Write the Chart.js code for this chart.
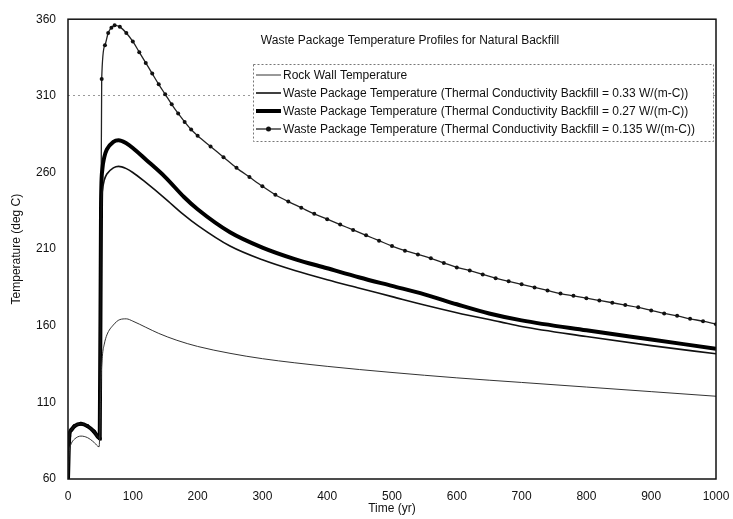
<!DOCTYPE html>
<html>
<head>
<meta charset="utf-8">
<script src="https://cdn.jsdelivr.net/npm/chart.js@4/dist/chart.umd.min.js"></script>
<style>
  body { margin: 0; background: #fff; }
  canvas { display: block; }
</style>
</head>
<body>
<canvas id="temp-chart" width="733" height="519"></canvas>
<script>
const chartTitle = 'Waste Package Temperature Profiles for Natural Backfill';

// rock wall
const rockYears = [0, 1, 2, 5, 10, 20, 30, 40, 48, 51, 53, 56, 60, 70, 80, 90, 100, 120, 140, 168, 200, 250, 300, 400, 500, 600, 700, 800, 900, 1000];
const rockTemps = [60, 72, 78, 83, 86, 88, 87, 84, 81, 125, 140, 148, 154, 160.5, 164, 164.5, 163, 159, 155, 150.5, 146.5, 142, 138.5, 133.5, 129.5, 126, 123, 120, 117, 114];

// k = 0.33
const wp033Years = [0, 2, 5, 10, 20, 30, 40, 49, 51, 53, 56, 60, 70, 78, 90, 100, 120, 150, 177, 200, 250, 300, 350, 400, 450, 500, 550, 600, 667, 700, 800, 900, 1000];
const wp033Temps = [60, 88, 92, 94.5, 96, 94.5, 91, 86.5, 230, 248, 255, 259, 263, 264, 262.5, 260, 253.5, 243, 233, 225.5, 212, 203, 196, 190, 184.5, 179, 173.5, 168.5, 162.5, 159.5, 153, 147, 141.7];

// k = 0.27
const wp027Years = [0, 2, 5, 10, 20, 30, 40, 49, 51, 53, 56, 60, 70, 78, 90, 100, 120, 150, 179, 200, 250, 300, 350, 400, 450, 500, 550, 600, 650, 700, 800, 900, 1000];
const wp027Temps = [60, 88, 92, 94.5, 96, 94.5, 91, 86.5, 240, 262, 270, 275, 280, 281, 279, 276, 268.5, 257, 244, 236, 221, 211, 203.5, 197.5, 191.5, 186, 180.5, 174, 168, 163.5, 157, 151, 145];

// k = 0.135 (with markers)
const wp0135Years = [0, 2, 5, 10, 20, 30, 40, 49, 52, 57, 62, 67, 72, 80, 90, 100, 110, 120, 130, 140, 150, 160, 170, 180, 190, 200,
  220, 240, 260, 280, 300, 320, 340, 360, 380, 400, 420, 440, 460, 480, 500, 520, 540, 560, 580, 600,
  620, 640, 660, 680, 700, 720, 740, 760, 780, 800, 820, 840, 860, 880, 900, 920, 940, 960, 980, 1000];
const wp0135Temps = [60, 88, 92, 94.5, 96, 94.5, 91, 86.5, 321, 343, 351, 354.5, 356, 355, 351, 345.5, 338.5, 331.5, 324.5, 317.5, 311, 304.5, 298.5, 293, 288, 284,
  277, 270, 263, 257, 251, 245.5, 241, 237, 233, 229.5, 226, 222.5, 219, 215.5, 212, 209, 206.5, 204, 201, 198,
  196, 193.5, 191, 189, 187, 185, 183, 181, 179.5, 178, 176.5, 175, 173.5, 172, 170, 168, 166.5, 164.5, 163, 161];

const seriesNames = [
  'Rock Wall Temperature',
  'Waste Package Temperature (Thermal Conductivity Backfill = 0.33 W/(m-C))',
  'Waste Package Temperature (Thermal Conductivity Backfill = 0.27 W/(m-C))',
  'Waste Package Temperature (Thermal Conductivity Backfill = 0.135 W/(m-C))'
];

const yTicks = [60, 110, 160, 210, 260, 310, 360];

function pts(xs, ys) {
  return xs.map((x, i) => ({x: x, y: ys[i]}));
}

const FONT = '"Liberation Sans", Arial, sans-serif';

// frame, title and legend drawn inside the plot
const overlay = {
  id: 'overlay',
  afterDraw(chart) {
    const c = chart.ctx;
    const a = chart.chartArea;
    c.save();
    c.strokeStyle = '#111';
    c.lineWidth = 1.5;
    c.strokeRect(a.left, a.top, a.right - a.left, a.bottom - a.top);

    c.fillStyle = '#111';
    c.font = '12px ' + FONT;
    c.textAlign = 'center';
    c.textBaseline = 'middle';
    c.fillText(chartTitle, 410, 41);

    // legend box
    const bx = 253, by = 64, bw = 460, bh = 77;
    c.fillStyle = '#fff';
    c.fillRect(bx, by, bw, bh);
    c.setLineDash([2, 2]);
    c.strokeStyle = '#777';
    c.lineWidth = 1;
    c.strokeRect(bx + 0.5, by + 0.5, bw, bh);
    c.setLineDash([]);

    c.font = '12px ' + FONT;
    c.textAlign = 'left';
    chart.data.datasets.forEach((ds, i) => {
      const ry = by + 11 + i * 18;
      c.strokeStyle = ds.borderColor;
      c.lineWidth = ds.borderWidth;
      c.beginPath();
      c.moveTo(bx + 3, ry);
      c.lineTo(bx + 28, ry);
      c.stroke();
      if (ds.pointRadius > 0) {
        c.fillStyle = ds.pointBackgroundColor;
        c.beginPath();
        c.arc(bx + 15.5, ry, ds.pointRadius + 0.5, 0, Math.PI * 2);
        c.fill();
      }
      c.fillStyle = '#111';
      c.fillText(ds.label, bx + 30, ry + 1);
    });
    c.restore();
  }
};

new Chart(document.getElementById('temp-chart'), {
  type: 'scatter',
  data: {
    datasets: [
      {
        label: seriesNames[0],
        data: pts(rockYears, rockTemps),
        showLine: true,
        borderColor: '#333',
        borderWidth: 1,
        pointRadius: 0,
        cubicInterpolationMode: 'monotone'
      },
      {
        label: seriesNames[1],
        data: pts(wp033Years, wp033Temps),
        showLine: true,
        borderColor: '#111',
        borderWidth: 1.6,
        pointRadius: 0,
        cubicInterpolationMode: 'monotone'
      },
      {
        label: seriesNames[2],
        data: pts(wp027Years, wp027Temps),
        showLine: true,
        borderColor: '#000',
        borderWidth: 4,
        pointRadius: 0,
        cubicInterpolationMode: 'monotone'
      },
      {
        label: seriesNames[3],
        data: pts(wp0135Years, wp0135Temps),
        showLine: true,
        borderColor: '#222',
        borderWidth: 1.3,
        pointRadius: 2,
        pointBackgroundColor: '#111',
        pointBorderColor: '#111',
        pointBorderWidth: 0,
        cubicInterpolationMode: 'monotone'
      }
    ]
  },
  options: {
    responsive: false,
    animation: false,
    layout: { padding: { top: 15, right: 17, bottom: 0, left: 0 } },
    plugins: {
      legend: { display: false },
      tooltip: { enabled: false }
    },
    scales: {
      x: {
        type: 'linear',
        min: 0,
        max: 1000,
        afterFit: (s) => { s.height = 40; },
        ticks: { stepSize: 100, padding: 2, color: '#111', font: { size: 12, family: FONT }, callback: (v) => String(v) },
        grid: { display: false },
        border: { display: false },
        title: { display: true, text: 'Time (yr)', color: '#111', font: { size: 12, family: FONT }, padding: { top: 0, bottom: 3 } }
      },
      y: {
        min: 60,
        max: 360,
        afterFit: (s) => { s.width = 68; },
        afterBuildTicks: (s) => { s.ticks = yTicks.map(v => ({value: v})); },
        ticks: { padding: 12, color: '#111', font: { size: 12, family: FONT } },
        grid: {
          drawTicks: false,
          color: (ctx) => ctx.tick && ctx.tick.value === 310 ? '#999' : 'rgba(0,0,0,0)',
          lineWidth: 1
        },
        border: { display: false, dash: [2, 3] },
        title: { display: true, text: 'Temperature (deg C)', color: '#111', font: { size: 12, family: FONT }, padding: { top: 9, bottom: 0 } }
      }
    }
  },
  plugins: [overlay]
});
</script>
</body>
</html>
